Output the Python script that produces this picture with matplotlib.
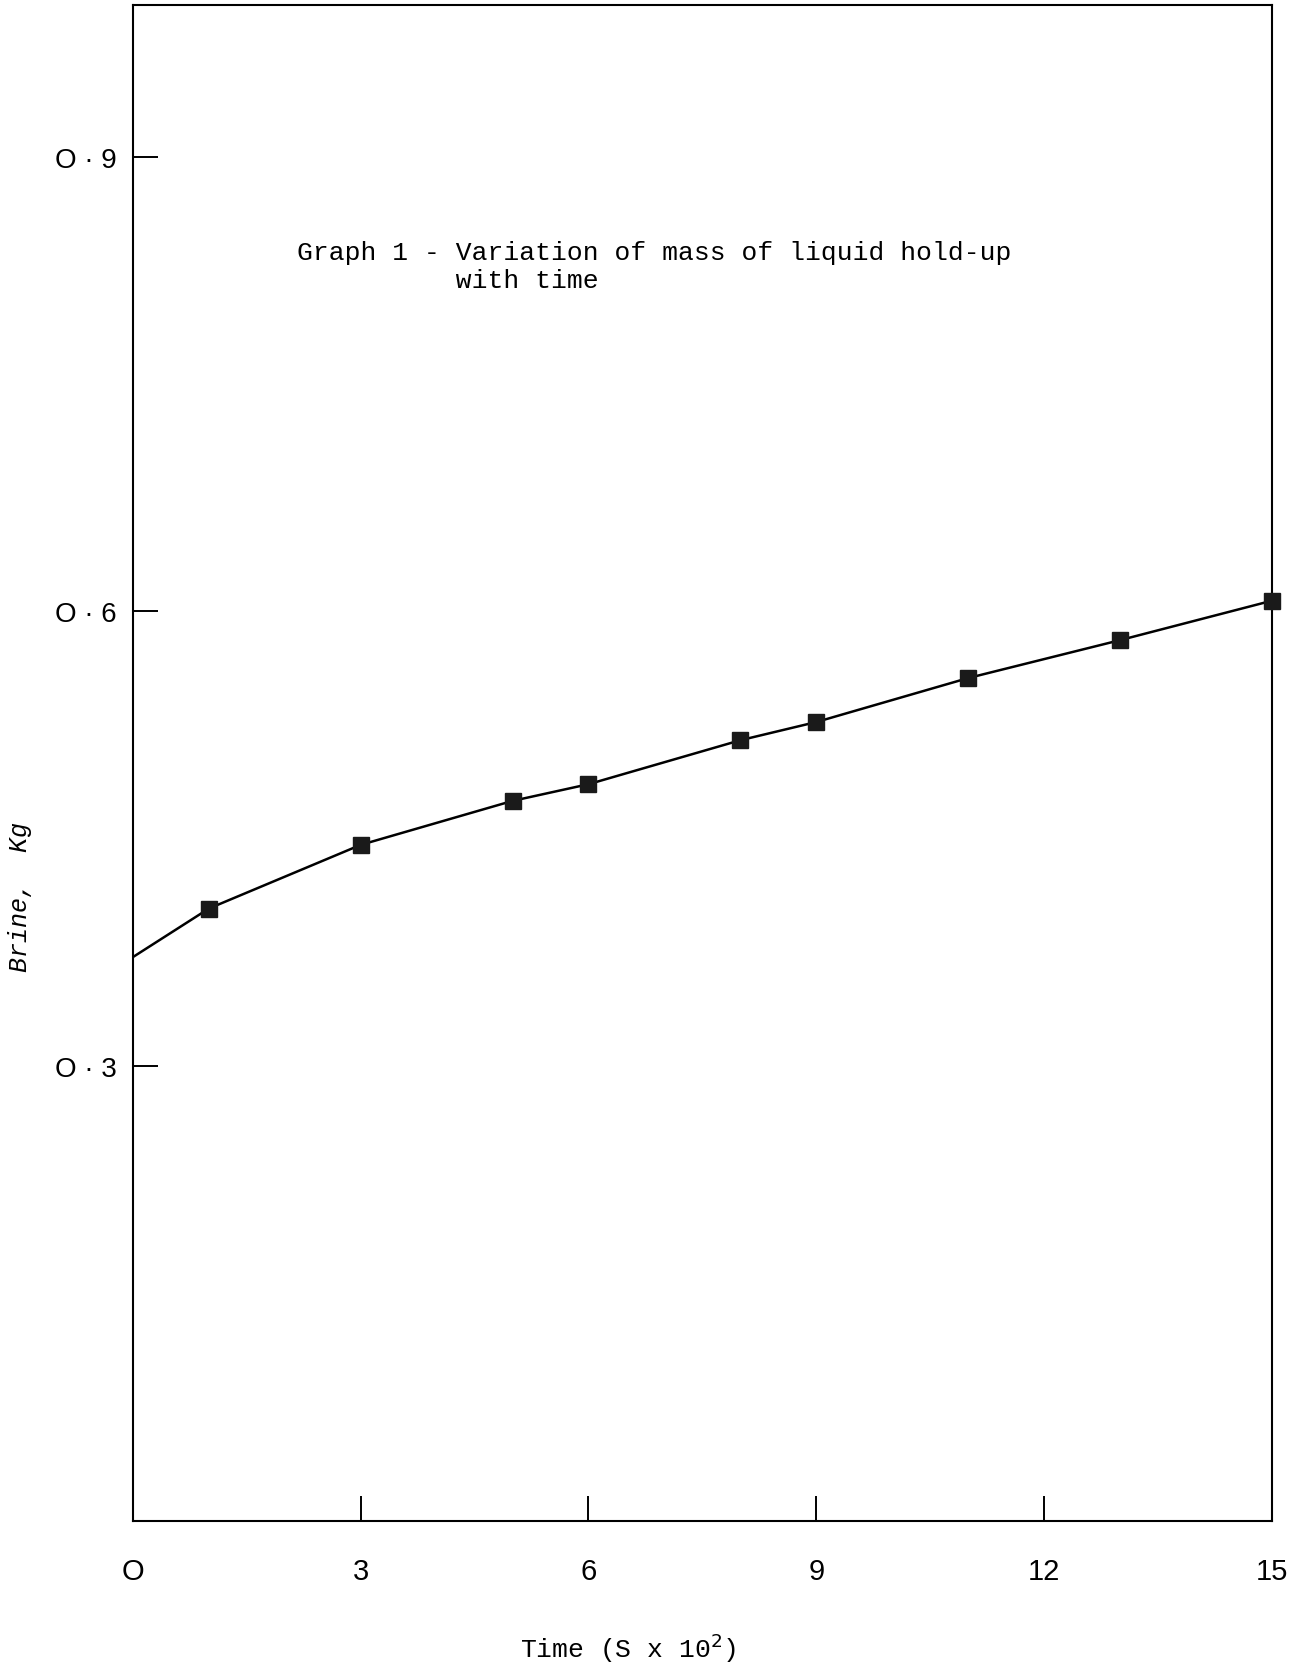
import matplotlib.pyplot as plt

# Readings
time_s = [1, 3, 5, 6, 8, 9, 11, 13, 15]          # S x 10^2
brine_kg = [0.404, 0.446, 0.475, 0.486, 0.515, 0.527, 0.556, 0.581, 0.607]

# curve is drawn back to the y axis
curve_t = [0] + time_s
curve_kg = [0.372] + brine_kg

xticks = [0, 3, 6, 9, 12, 15]
xticklabels = ["O", "3", "6", "9", "12", "15"]
yticks = [0.3, 0.6, 0.9]
yticklabels = ["O · 3", "O · 6", "O · 9"]

fig = plt.figure(figsize=(12.95, 16.65), dpi=100)
ax = fig.add_axes([0.1027, 0.0859, 0.8793, 0.9105])

ax.plot(curve_t, curve_kg, color="black", linewidth=1.8, zorder=2)
ax.plot(time_s, brine_kg, linestyle="none", marker="s", markersize=11,
        color="#1a1a1a", zorder=3, clip_on=False)

ax.set_xlim(0, 15)
ax.set_ylim(0, 1.0)

ax.set_xticks(xticks)
ax.set_xticklabels(xticklabels, family="Liberation Sans", fontsize=21)
ax.set_yticks(yticks)
ax.set_yticklabels(yticklabels, family="Liberation Sans", fontsize=20)
ax.tick_params(axis="x", direction="in", length=18, width=1.4, pad=26)
ax.tick_params(axis="y", direction="in", length=18, width=1.4, pad=12)

for sp in ax.spines.values():
    sp.set_linewidth(1.5)

ax.set_xlabel("Time (S x 10$^2$)", family="Liberation Mono", fontsize=19)
ax.xaxis.set_label_coords(0.435, -0.072)
ax.set_ylabel("Brine,  Kg", family="Liberation Mono", style="italic",
              fontsize=18)
ax.yaxis.set_label_coords(-0.089, 0.412)

ax.text(0.144, 0.828, "Graph 1 - Variation of mass of liquid hold-up\n"
        "          with time", transform=ax.transAxes,
        family="Liberation Mono", fontsize=19, linespacing=1.2,
        va="center", ha="left")

plt.savefig("out.png", dpi=100)
